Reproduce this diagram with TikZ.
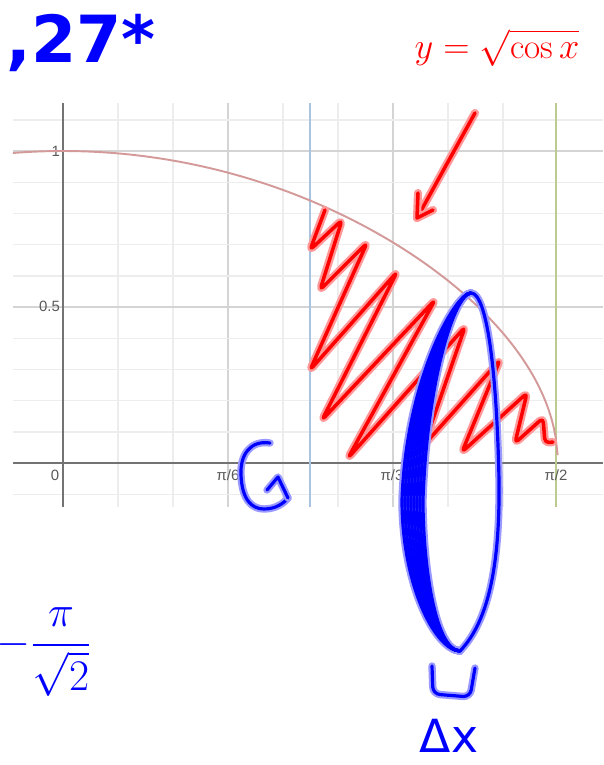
\documentclass[tikz,border=0pt]{standalone}
\usepackage{amsmath}
\usepackage{fontspec}
\usepackage{xcolor}
\usepackage{tikz}
\usetikzlibrary{
    positioning,
    arrows.meta
}
\newfontfamily\penfont{DejaVu Sans}
\newfontfamily\labfont{Liberation Sans}
\definecolor{curvecol}{HTML}{D49A9A}
\definecolor{lineblue}{HTML}{A8C4E0}
\definecolor{linegreen}{HTML}{BCCB8E}

\begin{document}
\begin{tikzpicture}[
        x=0.02cm, y=-0.02cm,
        minorgrid/.style={draw=black!7, line width=0.8pt},
        majorgrid/.style={draw=black!17, line width=0.8pt},
        axisline/.style={draw=black!55, line width=1.1pt},
        ticklabel/.style={font=\labfont\fontsize{8.5}{9}\selectfont, text=black!65, inner sep=1pt},
        redpen/.style={draw=red, line width=2pt, line cap=round, line join=round,
            preaction={draw=red!40, line width=4.6pt, line cap=round, line join=round}},
        bluehalo/.style={draw=blue!40, line width=4.2pt, line cap=round, line join=round},
        bluecore/.style={draw=blue, line width=1.8pt, line cap=round, line join=round},
        bluepen/.style={bluecore, preaction={bluehalo}},
        pentext/.style={inner sep=0pt}
      ]
      \useasboundingbox (0,0) rectangle (603,765);

      \foreach \gx in {118,173,283,338,448,503}
        \draw[minorgrid] (\gx,103) -- (\gx,507);
      \foreach \gx in {228,393}
        \draw[majorgrid] (\gx,103) -- (\gx,507);
      \foreach \k in {-1,1,2,3,4,6,7,8,9,11}
        \draw[minorgrid] (13,{463-31.2*\k}) -- (603,{463-31.2*\k});
      \foreach \k in {5,10}
        \draw[majorgrid] (13,{463-31.2*\k}) -- (603,{463-31.2*\k});

      \draw[axisline] (13,463) -- (603,463);
      \draw[axisline] (63,103) -- (63,507);
      \draw[draw=lineblue, line width=1.1pt] (310,103) -- (310,507);
      \draw[draw=linegreen, line width=1.1pt] (556,103) -- (556,507);

      \node[ticklabel, anchor=east] (l1) at (62,151) {1};
      \node[ticklabel, anchor=east] (l05) at (62,306) {0.5};
      \node[ticklabel] (l0) at (55,475) {0};
      \node[ticklabel] (lp6) at (228,475) {π/6};
      \node[ticklabel] (lp3) at (392,475) {π/3};
      \node[ticklabel] (lp2) at (556,475) {π/2};

      \draw[draw=curvecol, line width=1.1pt] plot[domain=-0.159:1.5708, samples=300]
        ({63+315*\x},{463-312*sqrt(max(cos(\x r),0))});

      % hatching under the curve
      \draw[redpen, rounded corners=2.5pt] (325,210) -- (310,250) -- (342,220) -- (320,290) -- (367,243)
        -- (310,370) -- (397,272) -- (322,420) -- (435,300) -- (348,458) -- (465,327)
        -- (424,445) -- (500,360) -- (462,452) -- (527,393) -- (515,443) -- (543,418)
        -- (545,443) -- (553,442);

      \node[pentext, text=red] (curvename) at (497,48)
        {\fontsize{20}{22}\selectfont $y=\sqrt{\cos x}$};
      \draw[redpen] (475,113) -- (417,218);
      \draw[redpen] (418,193) -- (417,218) -- (433,210);

      % slice
      \foreach \d in {0,3,...,21}
        \draw[bluehalo] (471,293) .. controls (455,293) and ({406+\d},380) .. ({402+\d},500)
          .. controls ({402+\d},{585-\d}) and (435,650) .. (460,651);
      \draw[bluehalo] (460,651) .. controls (490,620) and (500,560) .. (499,480)
        .. controls (497,380) and (488,293) .. (471,293);
      \foreach \d in {0,3,...,21}
        \draw[bluecore] (471,293) .. controls (455,293) and ({406+\d},380) .. ({402+\d},500)
          .. controls ({402+\d},{585-\d}) and (435,650) .. (460,651);
      \draw[bluecore] (460,651) .. controls (490,620) and (500,560) .. (499,480)
        .. controls (497,380) and (488,293) .. (471,293);
      \draw[bluepen, rounded corners=4pt] (432,666) -- (433,694) -- (470,697) -- (475,668);

      \draw[bluepen] (270,443) .. controls (250,440) and (240,455) .. (241,475)
        .. controls (242,500) and (252,509) .. (264,509)
        .. controls (276,509) and (284,503) .. (288,498);
      \draw[bluepen] (267,490) -- (278,477) -- (288,498);

      \node[pentext, text=blue, anchor=base west] (title) at (6,62)
        {\penfont\bfseries\fontsize{37}{40}\selectfont ,27*};
      \node[pentext, text=blue] (radius) at (44,652)
        {\fontsize{25}{27}\selectfont $\displaystyle -\frac{\pi}{\sqrt{2}}$};
      \node[pentext, text=blue] (width) at (449,736)
        {\penfont\fontsize{26}{28}\selectfont Δx};
    \end{tikzpicture}
\end{document}
